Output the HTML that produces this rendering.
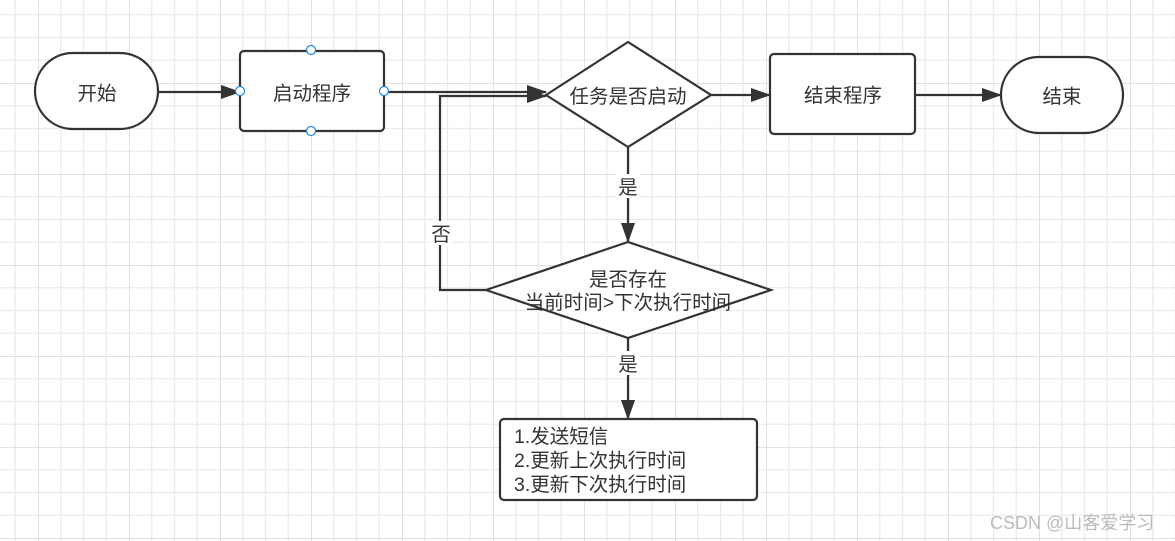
<!DOCTYPE html>
<html><head><meta charset="utf-8"><style>
html,body{margin:0;padding:0;background:#fff;}
svg{display:block;}
text{font-family:"Liberation Sans","Noto Sans CJK SC",sans-serif;fill:#333;}
</style></head><body>
<svg width="1175" height="541" viewBox="0 0 1175 541" xmlns="http://www.w3.org/2000/svg">
<defs>
<pattern id="g" x="38" y="-8" width="91" height="91" patternUnits="userSpaceOnUse">
<path d="M22.75 0V91M45.5 0V91M68.25 0V91M0 22.75H91M0 45.5H91M0 68.25H91" stroke="#ebebeb" stroke-width="1.3" fill="none"/>
<path d="M0 0V91M0 0H91" stroke="#e0e0e0" stroke-width="2" fill="none"/>
</pattern>
<marker id="b" markerWidth="20" markerHeight="14" refX="19" refY="7" orient="auto" markerUnits="userSpaceOnUse"><path d="M0 0L20 7L0 14Z" fill="#333"/></marker>
</defs>
<rect width="1175" height="541" fill="url(#g)"/>
<g stroke="#333" stroke-width="2.2" fill="#fff">
<rect x="35" y="53" width="123" height="76" rx="38"/>
<rect x="240" y="51" width="144" height="80" rx="4"/>
<polygon points="546,95 628,42 711,95 628,147"/>
<rect x="770" y="54" width="145" height="80" rx="4"/>
<rect x="1001" y="57" width="122" height="76" rx="38"/>
<polygon points="486,290 628,242 771,290 628,338"/>
<rect x="500" y="419" width="257" height="81" rx="4"/>
</g>
<g stroke="#333" stroke-width="2.2" fill="none">
<path d="M158 92H240" marker-end="url(#b)"/>
<path d="M384 92H546" marker-end="url(#b)"/>
<path d="M486 290H440V96H546" marker-end="url(#b)"/>
<path d="M711 95H770" marker-end="url(#b)"/>
<path d="M915 95H1001" marker-end="url(#b)"/>
<path d="M628 147V242" marker-end="url(#b)"/>
<path d="M628 338V419" marker-end="url(#b)"/>
</g>
<g fill="#fff" stroke="#1e88e5" stroke-width="1.2">
<circle cx="311" cy="50" r="4.5"/><circle cx="240" cy="91" r="4.5"/><circle cx="384" cy="91" r="4.5"/><circle cx="311" cy="131" r="4.5"/>
</g>
<rect x="616" y="174" width="24" height="24" fill="#fff"/>
<rect x="429" y="221" width="24" height="24" fill="#fff"/>
<rect x="616" y="351" width="24" height="24" fill="#fff"/>
<g font-size="19.5" text-anchor="middle">
<text x="97" y="100">开始</text>
<text x="312" y="100">启动程序</text>
<text x="628" y="103">任务是否启动</text>
<text x="843" y="102">结束程序</text>
<text x="1062" y="103">结束</text>
<text x="628" y="194">是</text>
<text x="441" y="241">否</text>
<text x="628" y="371">是</text>
<text x="628" y="286">是否存在</text>
<text x="628" y="309">当前时间&gt;下次执行时间</text>
</g>
<g font-size="19.5">
<text x="514" y="443">1.发送短信</text>
<text x="514" y="467">2.更新上次执行时间</text>
<text x="514" y="491">3.更新下次执行时间</text>
</g>
<text x="990" y="529" font-size="18" style="fill:#bbb">CSDN @山客爱学习</text>
</svg>
</body></html>
